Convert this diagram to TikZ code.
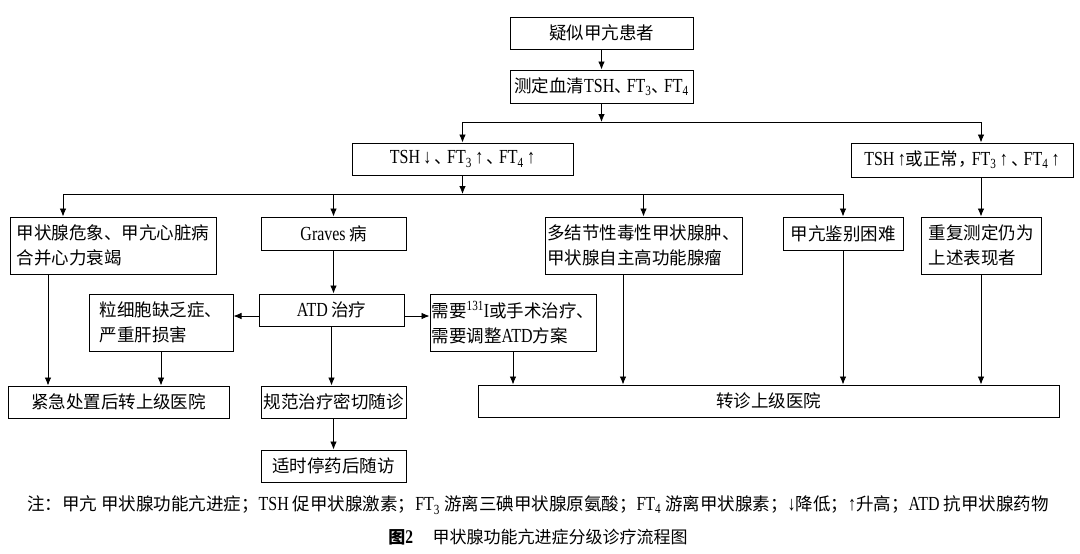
\documentclass[tikz,border=0pt]{standalone}
\usepackage{fontspec}
\setmainfont{Liberation Serif}[FakeStretch=0.8, Scale=1.14]
\newfontfamily\cjk{Noto Sans CJK SC}
\newcommand\zh[1]{{\cjk #1}}
\newcommand\dun{\zh{、}\kern-5pt}
\usetikzlibrary{arrows.meta}

\tikzset{
	box/.style={draw, line width=1pt, inner sep=0pt, align=left,
		font=\fontsize{17.5}{25}\selectfont},
	link/.style={line width=0.8pt},
}

\begin{document}
\begin{tikzpicture}[x=1pt, y=-1pt, >={Latex[length=8pt,width=6.5pt]}]
		\useasboundingbox (0,0) rectangle (1080,554);
		% top
		\node[box, minimum width=183pt, minimum height=32pt] (sus) at (601.5,33) {\zh{疑似甲亢患者}};
		\node[box, minimum width=183pt, minimum height=33pt] (test) at (601.5,86.5) {\zh{测定血清}TSH\dun FT\textsubscript{3}\dun FT\textsubscript{4}};
		\node[box, minimum width=221pt, minimum height=32pt] (low) at (462.5,159) {TSH\,↓\,\dun FT\textsubscript{3}\,↑\,\dun FT\textsubscript{4}\,↑};
		\node[box, minimum width=222pt, minimum height=34pt] (high) at (962,160) {TSH\,↑\zh{或正常，}\kern-4pt FT\textsubscript{3}\,↑\,\dun FT\textsubscript{4}\,↑};
		% second row
		\node[box, minimum width=206pt, minimum height=57pt] (crisis) at (113,245.5) {\zh{甲状腺危象、甲亢心脏病}\\\zh{合并心力衰竭}};
		\node[box, minimum width=145pt, minimum height=33pt] (graves) at (333.5,233.5) {Graves\,\zh{病}};
		\node[box, minimum width=197pt, minimum height=57pt] (multi) at (643.5,245.5) {\zh{多结节性毒性甲状腺肿、}\\\zh{甲状腺自主高功能腺瘤}};
		\node[box, minimum width=120pt, minimum height=33pt] (diff) at (843,233.5) {\zh{甲亢鉴别困难}};
		\node[box, minimum width=120pt, minimum height=57pt] (repeat) at (981,245.5) {\zh{重复测定仍为}\\\zh{上述表现者}};
		% treatment
		\node[box, minimum width=145pt, minimum height=32pt] (atd) at (331.5,310) {ATD\,\zh{治疗}};
		\node[box, minimum width=144pt, minimum height=57pt] (agran) at (161,322.5) {\zh{粒细胞缺乏症、}\\\zh{严重肝损害}};
		\node[box, minimum width=166pt, minimum height=57pt] (surg) at (513,322.5) {\zh{需要}\textsuperscript{131}I\zh{或手术治疗、}\\\zh{需要调整}ATD\zh{方案}};
		% bottom
		\node[box, minimum width=221pt, minimum height=32pt] (emerg) at (118.5,402) {\zh{紧急处置后转上级医院}};
		\node[box, minimum width=145pt, minimum height=32pt] (norm) at (333.5,402) {\zh{规范治疗密切随诊}};
		\node[box, minimum width=145pt, minimum height=32pt] (stop) at (333.5,466) {\zh{适时停药后随访}};
		\node[box, align=center, minimum width=581pt, minimum height=32pt] (refer) at (768.5,401) {\zh{转诊上级医院}};

		% connectors
		\coordinate (s1) at (601.5,122);
		\coordinate (s2) at (462.5,194);
		\coordinate (c1) at (63,194);
		\draw[link,->] (sus) -- (test);
		\draw[link,->] (test.south) -- (s1);
		\draw[link] (low.north |- s1) -- (repeat.north |- s1);
		\draw[link,->] (low.north |- s1) -- (low.north);
		\draw[link,->] (repeat.north |- s1) -- (repeat.north |- high.north);
		\draw[link,->] (repeat.north |- high.south) -- (repeat.north);
		\draw[link,->] (low.south) -- (s2);
		\draw[link] (c1) -- (diff.north |- s2);
		\draw[link,->] (c1) -- (c1 |- crisis.north);
		\draw[link,->] (graves.north |- s2) -- (graves.north);
		\draw[link,->] (multi.north |- s2) -- (multi.north);
		\draw[link,->] (diff.north |- s2) -- (diff.north);
		\draw[link,->] (graves) -- (graves.south |- atd.north);
		\coordinate (ad) at ([yshift=-6pt]atd.center);
		\draw[link,->] (ad -| atd.west) -- (ad -| agran.east);
		\draw[link,->] (ad -| atd.east) -- (ad -| surg.west);
		\draw[link,->] (atd.south) -- (atd.south |- norm.north);
		\draw[link,->] (norm) -- (stop);
		\coordinate (cd) at ([xshift=-65pt]crisis.south);
		\draw[link,->] (cd) -- (cd |- emerg.north);
		\draw[link,->] (agran.south) -- (agran.south |- emerg.north);
		\draw[link,->] (surg.south) -- (surg.south |- refer.north);
		\coordinate (md) at ([xshift=-20.5pt]multi.south);
		\draw[link,->] (md) -- (md |- refer.north);
		\draw[link,->] (diff.south) -- (diff.south |- refer.north);
		\draw[link,->] (repeat.south) -- (repeat.south |- refer.north);

		% note and caption
		\node[font=\fontsize{17.5}{19}\selectfont, inner sep=0pt] (note) at (538,505) {\zh{注：甲亢\ 甲状腺功能亢进症；}TSH\ \zh{促甲状腺激素；}FT\textsubscript{3}\ \zh{游离三碘甲状腺原氨酸；}FT\textsubscript{4}\ \zh{游离甲状腺素；}↓\zh{降低；}↑\zh{升高；}ATD\ \zh{抗甲状腺药物}};
		\node[font=\fontsize{17}{19}\selectfont, inner sep=0pt] (cap) at (538,537) {\zh{\bfseries 图}\textbf{2}\quad\zh{甲状腺功能亢进症分级诊疗流程图}};
	\end{tikzpicture}
\end{document}
